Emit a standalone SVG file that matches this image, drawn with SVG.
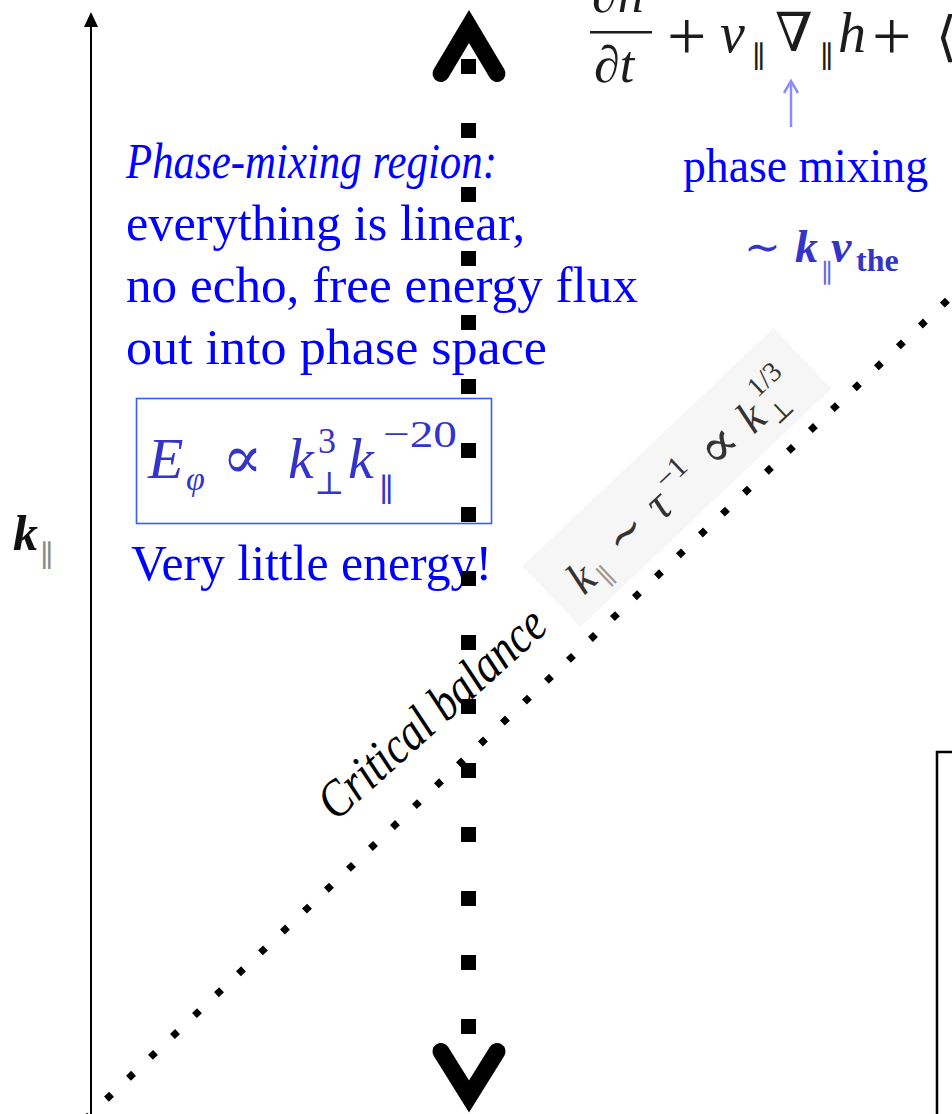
<svg xmlns="http://www.w3.org/2000/svg" width="952" height="1114" viewBox="0 0 952 1114">
<style>
.t{font-family:"Liberation Serif","DejaVu Serif",serif;}
.blue{fill:#0000ff;}
.it{font-style:italic;}
.eq{fill:#1c1c1c;}
.meq{fill:#3434c8;}
.lab{fill:#333333;}
</style>
<rect width="952" height="1114" fill="#ffffff"/>

<g id="axis">
<line x1="91" y1="1114" x2="91" y2="24" stroke="#000" stroke-width="2"/>
<polygon points="91,12 84,27 98,27" fill="#000"/>
<text class="t it" x="13" y="550" font-size="50" font-weight="bold" fill="#111">k</text>
<text class="t" x="40" y="566" font-size="30" fill="#888">∥</text>
</g>

<g id="equation-top">
<text class="t it eq" x="592" y="12" font-size="52">∂h</text>
<rect x="590" y="31" width="62" height="2.5" fill="#1c1c1c"/>
<text class="t it eq" x="594" y="82" font-size="52">∂t</text>
<text class="t eq" x="667" y="60" font-size="70">+</text>
<text class="t it eq" x="720" y="52" font-size="56">v</text>
<text class="t eq" x="752" y="67" font-size="30">∥</text>
<text class="t eq" x="775" y="51" font-size="54">∇</text>
<text class="t eq" x="820" y="67" font-size="30">∥</text>
<text class="t it eq" x="838" y="52" font-size="56">h</text>
<text class="t eq" x="872" y="60" font-size="70">+</text>
<text class="t eq" x="936" y="55" font-size="54">⟨</text>
</g>

<g id="phase-mixing-label">
<line x1="791" y1="127" x2="791" y2="82" stroke="#8c8cff" stroke-width="2.5"/>
<polyline points="784,93 791,81 798,93" fill="none" stroke="#8c8cff" stroke-width="2.5"/>
<text class="t blue" x="683" y="182" font-size="48" textLength="245" lengthAdjust="spacingAndGlyphs">phase mixing</text>
<text class="t meq" x="744" y="262" font-size="44">∼</text>
<text class="t it meq" x="795" y="262" font-size="46" font-weight="bold">k</text>
<text class="t" x="821" y="282" font-size="26" fill="#6a6ad8">∥</text>
<text class="t it meq" x="831" y="262" font-size="46" font-weight="bold">v</text>
<text class="t meq" x="856" y="271" font-size="32" font-weight="bold">the</text>
</g>

<g id="phase-mixing-region">
<text class="t it blue" x="126" y="178" font-size="51" textLength="371" lengthAdjust="spacingAndGlyphs">Phase-mixing region:</text>
<text class="t blue" x="126" y="240" font-size="51" textLength="399" lengthAdjust="spacingAndGlyphs">everything is linear,</text>
<text class="t blue" x="126" y="302" font-size="51" textLength="512" lengthAdjust="spacingAndGlyphs">no echo, free energy flux</text>
<text class="t blue" x="126" y="364" font-size="51" textLength="421" lengthAdjust="spacingAndGlyphs">out into phase space</text>
</g>

<g id="energy-box">
<rect x="136.5" y="398.5" width="355" height="125" fill="none" stroke="#2f5fff" stroke-width="1.6"/>
<text class="t it meq" x="148" y="478" font-size="58">E</text>
<text class="t it meq" x="186" y="490" font-size="34">φ</text>
<text class="t meq" x="222" y="478" font-size="60">∝</text>
<text class="t it meq" x="288" y="478" font-size="58">k</text>
<text class="t meq" x="318" y="453" font-size="36">3</text>
<text class="t meq" x="314" y="494" font-size="32">⊥</text>
<text class="t it meq" x="348" y="478" font-size="58">k</text>
<text class="t meq" x="379" y="501" font-size="32">∥</text>
<text class="t meq" x="383" y="447" font-size="38" textLength="74" lengthAdjust="spacingAndGlyphs">−20</text>
</g>

<g id="little-energy">
<text class="t blue" x="131" y="580" font-size="51" textLength="361" lengthAdjust="spacingAndGlyphs">Very little energy!</text>
</g>

<g id="critical-balance-formula" transform="translate(584,596) rotate(-43.5)">
<rect x="-24" y="-64" width="346" height="84" fill="#f6f6f6"/>
<text class="t it lab" x="0" y="0" font-size="46">k</text>
<text class="t" x="24" y="10" font-size="26" fill="#999">∥</text>
<text class="t lab" x="54" y="-2" font-size="46">∼</text>
<text class="t it lab" x="108" y="0" font-size="48">τ</text>
<text class="t lab" x="132" y="-20" font-size="30">−1</text>
<text class="t lab" x="182" y="2" font-size="56">∝</text>
<text class="t it lab" x="234" y="0" font-size="46">k</text>
<text class="t lab" x="258" y="10" font-size="26">⊥</text>
<text class="t lab" x="262" y="-24" font-size="28">1/3</text>
</g>

<g id="critical-balance-label" transform="translate(336,822) rotate(-42)">
<text class="t it" x="0" y="0" font-size="52" fill="#000" textLength="288" lengthAdjust="spacingAndGlyphs">Critical balance</text>
</g>

<g id="right-box">
<rect x="937" y="752" width="40" height="400" fill="none" stroke="#000" stroke-width="2.5"/>
</g>

<g id="connectors">
<line id="critical-balance-line" x1="84" y1="1120.45" x2="960" y2="288.25" stroke="#000" stroke-width="7" stroke-dasharray="7 23.34" stroke-dashoffset="-0.64"/>
<line id="scale-line" x1="468.5" y1="59" x2="468.5" y2="1034" stroke="#000" stroke-width="15" stroke-dasharray="15 49"/>
<polyline points="441,73.5 469,26.5 497,73.5" fill="none" stroke="#000" stroke-width="17" stroke-linecap="round" stroke-linejoin="miter"/>
<polyline points="441,1051.5 469,1096.5 497,1051.5" fill="none" stroke="#000" stroke-width="17" stroke-linecap="round" stroke-linejoin="miter"/>
</g>
</svg>
